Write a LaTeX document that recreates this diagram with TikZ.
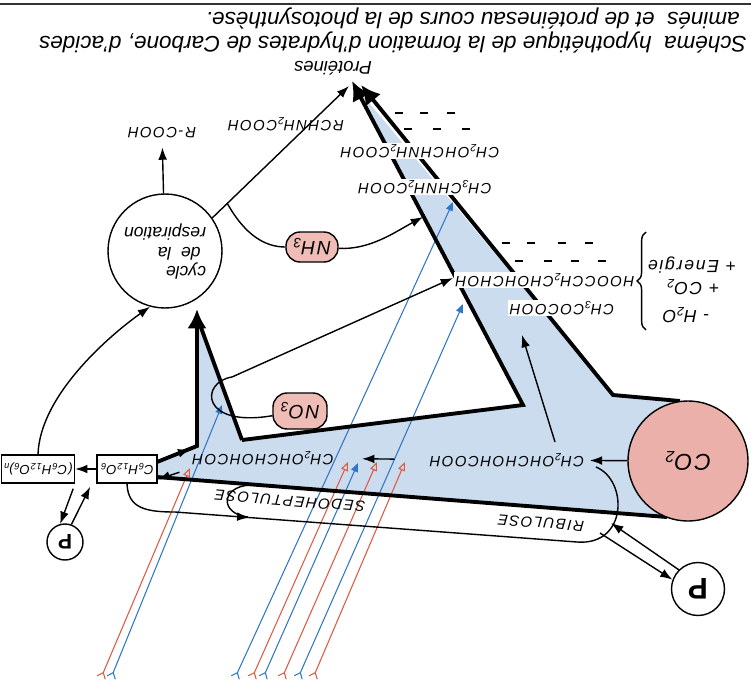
\documentclass[tikz,border=0pt]{standalone}
\usepackage{fontspec}
\setmainfont{Liberation Sans}
\newfontfamily\chemfont[LetterSpace=10]{Liberation Sans}
\usepackage{graphicx}
\usetikzlibrary{arrows.meta, positioning, calc,
  decorations.pathreplacing, decorations.markings}

\definecolor{bandblue}{RGB}{203,220,238}
\definecolor{pinkfill}{RGB}{240,188,182}
\definecolor{co2fill}{RGB}{236,176,170}
\definecolor{rayred}{RGB}{222,88,66}
\definecolor{rayblue}{RGB}{48,118,200}

\newcommand\flip[1]{\rotatebox{180}{#1}}
\newcommand\sub[1]{\textsubscript{#1}}

\begin{document}
\begin{tikzpicture}[
  x=0.02cm, y=-0.02cm,
  chem/.style={font=\chemfont\itshape\fontsize{8.5}{9}\selectfont, inner sep=1pt},
  side/.style={font=\chemfont\itshape\fontsize{10}{11}\selectfont, inner sep=1pt},
  arr/.style={-{Latex[length=7pt,width=5pt]}, line width=0.8pt},
  thickarr/.style={line width=2.2pt, -{Latex[length=11pt,width=11pt]}},
  edge/.style={line width=2.2pt},
  rayr/.style={line width=0.6pt, rayred,
    {Straight Barb[reversed,length=3pt,width=5pt]}-{Triangle[open,length=5pt,width=4pt]}},
  rayb/.style={line width=0.6pt, rayblue,
    {Straight Barb[reversed,length=3pt,width=5pt]}-{Triangle[length=5pt,width=4pt]}},
  pill/.style={rectangle, rounded corners=8pt, draw, line width=0.8pt, fill=pinkfill,
    inner sep=2pt, font=\chemfont\itshape\fontsize{11}{12}\selectfont},
  box/.style={draw, line width=0.8pt, minimum height=0.56cm, inner sep=1pt,
    font=\chemfont\itshape\fontsize{7.5}{8}\selectfont},
  ring/.style={circle, draw, line width=0.8pt, fill=white, inner sep=0pt},
  ]
  \useasboundingbox (0,0) rectangle (751,697);

  % --- page edge and title ---
  \draw[line width=1.4pt, black!80] (0,4) -- (751,4);
  \node[anchor=east, inner sep=0pt, font=\itshape\fontsize{12.8}{13.6}\selectfont] (title) at (747,29)
    {\flip{\begin{tabular}{@{}l@{}}Schéma\ \ hypothétique de la formation d'hydrates de Carbone, d'acides\\
      \hspace{4pt}aminés\ \ et de protéinesau cours de la photosynthèse.\end{tabular}}};
  \node[font=\itshape\fontsize{10.5}{11}\selectfont, inner sep=1pt] (prot) at (333,68) {\flip{Protéines}};
  \coordinate (ptip) at (349,86);

  % --- blue band (drawn first) ---
  \fill[bandblue] (157,462) -- (197,446) -- (197,318) -- (242,440) -- (523,405)
    -- (355,86) -- (613,395) -- (688,402) -- (688,519) -- (157,477) -- cycle;

  % --- dashes ---
  \foreach \x/\y in {395/113, 420/113, 447/113, 404/129, 433/129, 462/129,
                     502/243, 527/243, 558/243, 585/243, 515/261, 544/261, 571/261, 598/261}
    \draw[line width=1pt] (\x,\y) -- ++(8,0);

  % --- light rays (red and blue) ---
  \foreach \bx/\tx/\ty in {101/190/468, 252/348/462, 282/377/462, 313/405/462}
    \draw[rayr] (\bx,678) -- (\tx,\ty);
  \foreach \bx/\tx/\ty in {111/222/405, 235/453/202, 263/358/463, 298/463/304}
    \draw[rayb] (\bx,678) -- (\tx,\ty);

  % --- thick outline of the band ---
  \draw[thickarr] (157,462) -- (197,446) -- (197,309);
  \draw[edge] (242,440) -- (199,322);
  \draw[thickarr] (242,440) -- (523,405) -- (352,81);
  \draw[thickarr] (680,401) -- (613,395) -- (361,85);
  \draw[edge] (157,477) -- (667,517);

  % --- formulas in the upper arm ---
  \node[chem, fill=white] (serine) at (420,151) {\flip{CH\sub2OHCHNH\sub2COOH}};
  \node[chem, fill=white] (alanine) at (425,187) {\flip{CH\sub3CHNH\sub2COOH}};
  \node[chem, fill=white] (malic) at (545,280) {\flip{HOOCCH\sub2CHOHCHOH}};
  \node[chem, fill=white] (pyr) at (562,308) {\flip{CH\sub3COCOOH}};
  \draw[decorate, decoration={brace, amplitude=5pt}, line width=0.8pt] (646,330) -- (646,232);
  \node[side] (energie) at (692,265) {\flip{+ Energie}};
  \node[side] (plusco2) at (693,287) {\flip{+ CO\sub2}};
  \node[side] (minush2o) at (686,315) {\flip{- H\sub2O}};

  % --- formulas in the band ---
  \node[chem] (pga) at (507,460) {\flip{CH\sub2OHCHOHCOOH}};
  \node[chem] (triose) at (263,458) {\flip{CH\sub2OHCHOHCOH}};
  \node[chem] (sedo) at (290,501) {\rotatebox{175.5}{SEDOHEPTULOSE}};
  \node[chem] (ribu) at (541,523) {\rotatebox{175.5}{RIBULOSE}};

  % --- circles ---
  \node[ring, minimum size=2.4cm, fill=co2fill] (co2) at (688,461)
    {\flip{\chemfont\itshape\fontsize{13}{14}\selectfont CO\sub2}};
  \node[ring, minimum size=2.28cm] (cycle) at (165,251)
    {\flip{\itshape\fontsize{10}{11}\selectfont\begin{tabular}{@{}l@{}}cycle\\ \hspace{3pt}de\ \ la\\respiration\end{tabular}}};
  \node[ring, minimum size=1.06cm, font=\bfseries\fontsize{17}{17}\selectfont] (pr) at (698,589) {\flip{P}};
  \node[ring, minimum size=0.72cm, font=\bfseries\fontsize{12}{12}\selectfont] (pl) at (65,542) {\flip{P}};

  % --- sugar boxes ---
  \node[box, minimum width=1.2cm] (c6) at (127,469) {\flip{C\sub6H\sub{12}O\sub6}};
  \node[box, minimum width=1.26cm] (poly) at (38,469) {\flip{(C\sub6H\sub{12}O\sub6)\sub{n}}};

  % --- side products of the cycle ---
  \node[chem] (rcooh) at (162,133) {\flip{R-COOH}};
  \node[chem] (rch) at (286,124) {\flip{RCHNH\sub2COOH}};
  \node[pill, minimum width=1.04cm, minimum height=0.6cm] (nh3) at (312,247) {\flip{NH\sub3}};
  \node[pill, minimum width=1.08cm, minimum height=0.72cm] (no3) at (300,411) {\flip{NO\sub3}};

  % --- connectors ---
  \coordinate (nh3end) at (423,217);
  \coordinate (no3end) at (453,278);
  \coordinate (pgaup) at (555,442);
  \coordinate (pyrdn) at (522,335);
  \coordinate (ribend) at (596,467);
  \coordinate (ribin) at (600,533);
  \coordinate (ribout) at (611,523);

  \draw[arr, shorten >=4pt] (cycle) -- (rcooh);
  \draw[arr] (cycle.35) -- coordinate[pos=0.11] (jn) (ptip);
  \draw[line width=0.8pt] (jn) .. controls (245,235) and (265,247) .. (nh3);
  \draw[arr] (nh3) .. controls (370,250) and (395,232) .. (nh3end);
  \draw[arr] (no3) .. controls (200,428) and (200,382) .. (232,377) -- (no3end);
  \draw[arr] (poly.north) .. controls (40,395) and (110,335) .. (cycle.255);
  \draw[arr] (c6) -- (poly);
  \draw[arr] ($(poly.south east)+(-2,5)$) -- (pl.105);
  \draw[arr] (pl.70) -- ($(poly.south east)+(15,3)$);
  \draw[arr, shorten <=6pt] ([yshift=5pt]c6.east) -- ([yshift=5pt]triose.west);
  \draw[arr, shorten <=6.5pt] ([yshift=-6pt]triose.west) -- ([yshift=-6pt]c6.east);
  \draw[arr, shorten >=2pt] (co2) -- (pga);
  \draw[arr, shorten <=19pt, shorten >=15pt] (pga) -- (triose);
  \draw[arr] (pgaup) -- (pyrdn);
  \draw[line width=0.8pt, decoration={markings, mark=at position 0.24 with {\arrow{Latex[length=7pt,width=5pt]}}},
    postaction={decorate}]
    (c6.south) .. controls (128,508) and (145,512) .. (175,512) -- (577,542)
    .. controls (628,546) and (628,480) .. (ribend);
  \draw[line width=0.8pt] (250,485) .. controls (220,487) and (220,514) .. (248,517);
  \draw[arr] (ribin) -- (pr.160);
  \draw[arr] (pr.135) -- (ribout);

\end{tikzpicture}
\end{document}
